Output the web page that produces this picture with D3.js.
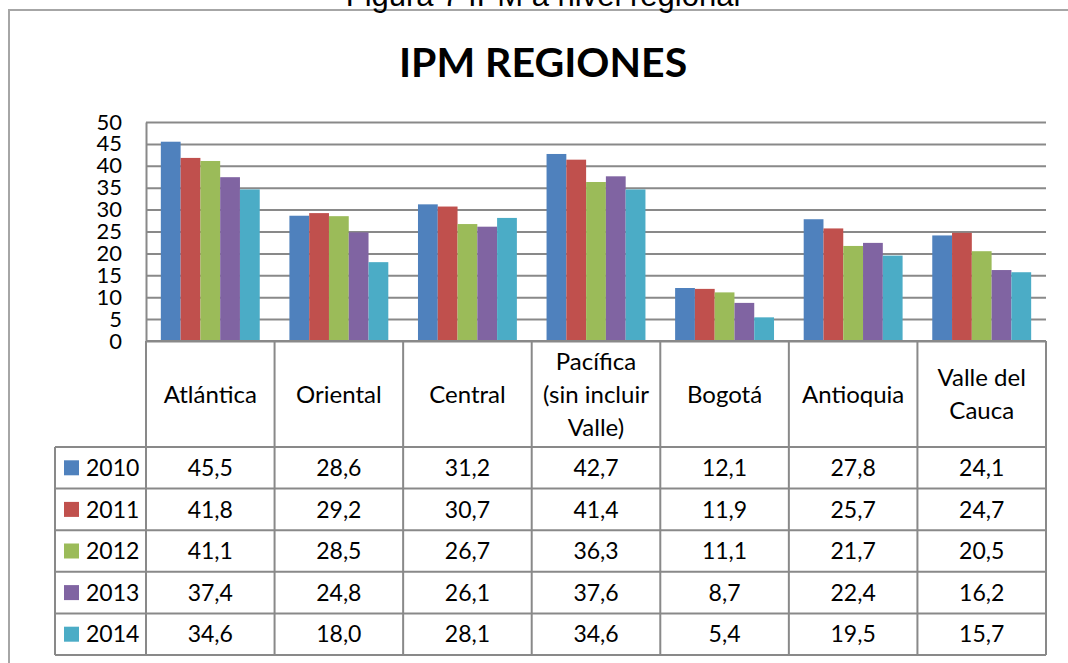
<!DOCTYPE html>
<html>
<head>
<meta charset="utf-8">
<script src="https://cdn.jsdelivr.net/npm/d3@7"></script>
<style>
body { margin: 0; background: #fff; }
svg { display: block; font-family: Lato, 'Open Sans', sans-serif; }
</style>
</head>
<body>
<svg></svg>
<script>
let regions = ['Atlántica', 'Oriental', 'Central', 'Pacífica (sin incluir Valle)', 'Bogotá', 'Antioquia', 'Valle del Cauca']
let regionLines = [['Atlántica'], ['Oriental'], ['Central'], ['Pacífica', '(sin incluir', 'Valle)'], ['Bogotá'], ['Antioquia'], ['Valle del', 'Cauca']]
let years = ['2010', '2011', '2012', '2013', '2014']
let ipm2010 = [45.5, 28.6, 31.2, 42.7, 12.1, 27.8, 24.1]
let ipm2011 = [41.8, 29.2, 30.7, 41.4, 11.9, 25.7, 24.7]
let ipm2012 = [41.1, 28.5, 26.7, 36.3, 11.1, 21.7, 20.5]
let ipm2013 = [37.4, 24.8, 26.1, 37.6, 8.7, 22.4, 16.2]
let ipm2014 = [34.6, 18.0, 28.1, 34.6, 5.4, 19.5, 15.7]
let yTicks = [0, 5, 10, 15, 20, 25, 30, 35, 40, 45, 50]
let colors = ['#4f81bd', '#c0504d', '#9bbb59', '#8064a2', '#4bacc6']

let series = [ipm2010, ipm2011, ipm2012, ipm2013, ipm2014]
let width = 1068
let height = 663
let plotLeft = 146, plotRight = 1046, plotTop = 122, plotBottom = 341
let headerBottom = 447, tableBottom = 655, legendLeft = 55
let gridColor = '#898989'
let svg = d3.select('svg')
let xScale, yearScale, yScale, rowScale
let fmt = d3.formatLocale({ decimal: ',', thousands: '.', grouping: [3], currency: ['$', ''] }).format('.1f')

let drawCanvas = () => {
    svg.attr('width', width)
    svg.attr('height', height)
    svg.append('rect')
        .attr('x', 9)
        .attr('y', 10)
        .attr('width', width)
        .attr('height', height)
        .attr('fill', 'none')
        .attr('stroke', '#a6a6a6')
        .attr('stroke-width', 2)
    // caption of the figure, cut by the top of the page as in the source
    svg.append('text')
        .attr('x', 543)
        .attr('y', 6)
        .attr('text-anchor', 'middle')
        .style('font-family', "'Liberation Sans', Arial, sans-serif")
        .style('font-size', '31px')
        .text('Figura 7 IPM a nivel regional')
    svg.append('text')
        .attr('x', 543)
        .attr('y', 77)
        .attr('text-anchor', 'middle')
        .style('font-weight', 'bold')
        .style('font-size', '41px')
        .text('IPM REGIONES')
}

let generateScales = () => {
    xScale = d3.scaleBand()
        .domain(regions)
        .range([plotLeft, plotRight])
    yearScale = d3.scaleBand()
        .domain(years)
        .range([0, xScale.bandwidth()])
        .paddingOuter(0.75)
    yScale = d3.scaleLinear()
        .domain([0, 50])
        .range([plotBottom, plotTop])
    rowScale = d3.scaleBand()
        .domain(years)
        .range([headerBottom, tableBottom])
}

let generateAxes = () => {
    let grid = d3.axisLeft(yScale)
        .tickValues(yTicks)
        .tickSize(-(plotRight - plotLeft))
        .tickFormat('')
    svg.append('g')
        .attr('id', 'grid')
        .attr('transform', 'translate(' + plotLeft + ',0)')
        .call(grid)
        .call(g => g.select('.domain').remove())
        .call(g => g.selectAll('line').attr('stroke', gridColor).attr('stroke-width', 2))
    let yAxis = d3.axisLeft(yScale)
        .tickValues(yTicks)
        .tickSize(0)
        .tickPadding(24)
    svg.append('g')
        .attr('id', 'y-axis')
        .attr('transform', 'translate(' + plotLeft + ',0)')
        .call(yAxis)
        .call(g => g.select('.domain').attr('stroke', gridColor).attr('stroke-width', 2))
        .call(g => g.selectAll('text')
            .attr('fill', '#000')
            .style('font-family', 'Lato, sans-serif')
            .style('font-size', '22px'))
}

let drawBars = () => {
    let groups = svg.selectAll('g.year')
        .data(series)
        .enter()
        .append('g')
        .attr('class', 'year')
        .attr('fill', (d, i) => colors[i])
    groups.selectAll('rect')
        .data((d, i) => d.map((v, j) => ({ region: regions[j], year: years[i], value: v })))
        .enter()
        .append('rect')
        .attr('x', d => xScale(d.region) + yearScale(d.year))
        .attr('width', yearScale.bandwidth())
        .attr('y', d => yScale(d.value))
        .attr('height', d => yScale(0) - yScale(d.value))
}

let drawTable = () => {
    let table = svg.append('g').attr('id', 'data-table')
    let lineAttrs = sel => sel.attr('stroke', gridColor).attr('stroke-width', 2)
    // horizontal lines
    table.append('line').attr('x1', plotLeft).attr('x2', plotRight)
        .attr('y1', plotBottom).attr('y2', plotBottom).call(lineAttrs)
    let rowEdges = years.map(y => rowScale(y)).concat([tableBottom])
    table.selectAll('line.row')
        .data(rowEdges)
        .enter()
        .append('line')
        .attr('class', 'row')
        .attr('x1', legendLeft).attr('x2', plotRight)
        .attr('y1', d => d).attr('y2', d => d)
        .call(lineAttrs)
    // vertical lines
    let colEdges = regions.map(r => xScale(r)).concat([plotRight])
    table.selectAll('line.col')
        .data(colEdges)
        .enter()
        .append('line')
        .attr('class', 'col')
        .attr('x1', d => d).attr('x2', d => d)
        .attr('y1', plotBottom).attr('y2', tableBottom)
        .call(lineAttrs)
    table.append('line').attr('x1', legendLeft).attr('x2', legendLeft)
        .attr('y1', headerBottom).attr('y2', tableBottom).call(lineAttrs)

    // header labels
    let lineH = 33
    let headers = table.selectAll('text.header')
        .data(regionLines)
        .enter()
        .append('text')
        .attr('class', 'header')
        .attr('text-anchor', 'middle')
        .style('font-size', '24px')
    headers.selectAll('tspan')
        .data((lines, i) => lines.map((t, k) => ({ t, k, n: lines.length, region: regions[i] })))
        .enter()
        .append('tspan')
        .attr('x', d => xScale(d.region) + xScale.bandwidth() / 2)
        .attr('y', d => (plotBottom + headerBottom) / 2 + (d.k - (d.n - 1) / 2) * lineH)
        .attr('dy', '0.36em')
        .text(d => d.t)

    // legend keys
    table.selectAll('rect.key')
        .data(years)
        .enter()
        .append('rect')
        .attr('class', 'key')
        .attr('x', 64)
        .attr('y', d => rowScale(d) + rowScale.bandwidth() / 2 - 7.5)
        .attr('width', 15)
        .attr('height', 15)
        .attr('fill', (d, i) => colors[i])
    table.selectAll('text.key')
        .data(years)
        .enter()
        .append('text')
        .attr('class', 'key')
        .attr('x', 86)
        .attr('y', d => rowScale(d) + rowScale.bandwidth() / 2)
        .attr('dy', '0.36em')
        .style('font-size', '23px')
        .text(d => d)

    // values
    series.forEach((vals, i) => {
        table.selectAll('text.v' + i)
            .data(vals)
            .enter()
            .append('text')
            .attr('class', 'v' + i)
            .attr('text-anchor', 'middle')
            .attr('x', (d, j) => xScale(regions[j]) + xScale.bandwidth() / 2)
            .attr('y', rowScale(years[i]) + rowScale.bandwidth() / 2)
            .attr('dy', '0.36em')
            .style('font-size', '23px')
            .text(d => fmt(d))
    })
}

drawCanvas()
generateScales()
generateAxes()
drawBars()
drawTable()
</script>
</body>
</html>
